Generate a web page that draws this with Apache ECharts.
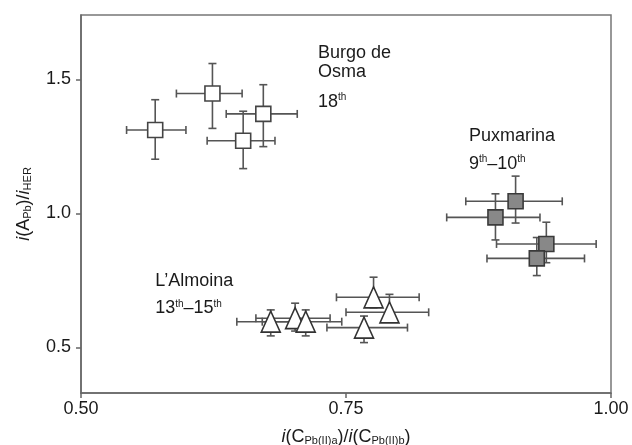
<!DOCTYPE html>
<html>
<head>
<meta charset="utf-8">
<script src="https://cdn.jsdelivr.net/npm/echarts@6/dist/echarts.min.js"></script>
<style>
  html, body { margin: 0; padding: 0; background: #fff; }
  #chart { width: 632px; height: 445px; }
</style>
</head>
<body>
<div id="chart"></div>
<script>
// Burgo de Osma (open squares)
var burgoX = [0.570, 0.624, 0.672, 0.653];
var burgoY = [1.311, 1.447, 1.371, 1.271];
var burgoXLo = [0.543, 0.590, 0.637, 0.619];
var burgoXHi = [0.599, 0.652, 0.704, 0.683];
var burgoYLo = [1.202, 1.317, 1.249, 1.167];
var burgoYHi = [1.424, 1.559, 1.480, 1.381];

// Puxmarina (grey squares)
var puxX = [0.891, 0.910, 0.939, 0.930];
var puxY = [0.985, 1.045, 0.886, 0.832];
var puxXLo = [0.845, 0.863, 0.892, 0.883];
var puxXHi = [0.933, 0.954, 0.986, 0.975];
var puxYLo = [0.901, 0.964, 0.816, 0.768];
var puxYHi = [1.073, 1.139, 0.967, 0.910];

// L'Almoina (open triangles)
var almX = [0.679, 0.702, 0.712, 0.776, 0.791, 0.767];
var almY = [0.596, 0.609, 0.596, 0.687, 0.631, 0.574];
var almXLo = [0.647, 0.665, 0.671, 0.741, 0.750, 0.732];
var almXHi = [0.707, 0.735, 0.746, 0.819, 0.828, 0.808];
var almYLo = [0.543, 0.561, 0.543, 0.648, 0.594, 0.518];
var almYHi = [0.640, 0.665, 0.640, 0.762, 0.698, 0.617];

// axis ticks
var xTicks = [0.50, 0.75, 1.00];
var yTicks = [0.5, 1.0, 1.5];

// annotations
var noteText = ['Burgo de\nOsma', '18{sup|th}', 'Puxmarina', '9{sup|th}–10{sup|th}', 'L’Almoina', '13{sup|th}–15{sup|th}'];
var noteX = [0.7236, 0.7236, 0.866, 0.866, 0.570, 0.570];
var noteY = [1.563, 1.415, 1.290, 1.184, 0.748, 0.645];

var FONT = "'Liberation Sans', Arial, sans-serif";
var INK = '#1a1a1a';

function zip(xs, ys) {
    var out = [];
    for (var i = 0; i < xs.length; i++) out.push([xs[i], ys[i]]);
    return out;
}

function errRows(xs, ys, xlo, xhi, ylo, yhi) {
    var out = [];
    for (var i = 0; i < xs.length; i++) out.push([xs[i], ys[i], xlo[i], xhi[i], ylo[i], yhi[i]]);
    return out;
}

var allErr = []
    .concat(errRows(burgoX, burgoY, burgoXLo, burgoXHi, burgoYLo, burgoYHi))
    .concat(errRows(puxX, puxY, puxXLo, puxXHi, puxYLo, puxYHi))
    .concat(errRows(almX, almY, almXLo, almXHi, almYLo, almYHi));

var barStyle = { stroke: '#555', lineWidth: 1.6 };
var CAP = 4;

var renderErr = function (params, api) {
    var c = api.coord([api.value(0), api.value(1)]);
    var l = api.coord([api.value(2), api.value(1)]);
    var r = api.coord([api.value(3), api.value(1)]);
    var b = api.coord([api.value(0), api.value(4)]);
    var t = api.coord([api.value(0), api.value(5)]);
    var line = function (x1, y1, x2, y2) {
        return { type: 'line', shape: { x1: x1, y1: y1, x2: x2, y2: y2 }, style: barStyle };
    };
    return {
        type: 'group',
        children: [
            line(l[0], c[1], r[0], c[1]),
            line(l[0], c[1] - CAP, l[0], c[1] + CAP),
            line(r[0], c[1] - CAP, r[0], c[1] + CAP),
            line(c[0], t[1], c[0], b[1]),
            line(c[0] - CAP, t[1], c[0] + CAP, t[1]),
            line(c[0] - CAP, b[1], c[0] + CAP, b[1])
        ]
    };
};

var notes = [];
for (var i = 0; i < noteText.length; i++) {
    notes.push({ value: [noteX[i], noteY[i]], label: { formatter: noteText[i] } });
}

var supRich = {
    sup: { fontSize: 10, fontFamily: FONT, color: INK, verticalAlign: 'top', lineHeight: 19, padding: [0, 0, 6, 0] }
};

var nameRich = {
    it: { fontStyle: 'italic', fontSize: 18, fontFamily: FONT, color: INK },
    sub: { fontSize: 11, fontFamily: FONT, color: INK, verticalAlign: 'bottom', padding: [6, 0, 0, 0] }
};

var myChart = echarts.init(document.getElementById('chart'));
var option = {
    animation: false,
    backgroundColor: '#fff',
    grid: {
        left: 81, right: 21, top: 15, bottom: 52,
        outerBoundsMode: 'none',
        containLabel: false,
        show: true, borderColor: '#777', borderWidth: 1.5, backgroundColor: 'transparent'
    },
    xAxis: {
        type: 'value',
        min: 0.5, max: 1.0, interval: 0.25,
        name: '{it|i}(C{sub|Pb(II)a})/{it|i}(C{sub|Pb(II)b})',
        nameLocation: 'middle',
        nameGap: 35,
        nameTextStyle: { fontFamily: FONT, fontSize: 18, color: INK, rich: nameRich },
        axisLine: { show: true, lineStyle: { color: '#666', width: 1.5 } },
        axisTick: { show: true, inside: false, length: 5, lineStyle: { color: '#666', width: 1.5 } },
        axisLabel: {
            fontFamily: FONT, fontSize: 18, color: INK, margin: 7,
            customValues: xTicks,
            formatter: function (v) { return v.toFixed(2); }
        },
        splitLine: { show: false }
    },
    yAxis: {
        type: 'value',
        min: 0.33, max: 1.74,
        name: '{it|i}(A{sub|Pb})/{it|i}{sub|HER}',
        nameLocation: 'middle',
        nameGap: 48,
        nameTextStyle: { fontFamily: FONT, fontSize: 18, color: INK, rich: nameRich },
        axisLine: { show: true, lineStyle: { color: '#666', width: 1.5 } },
        axisTick: { show: true, inside: false, length: 5, customValues: yTicks, lineStyle: { color: '#666', width: 1.5 } },
        axisLabel: {
            fontFamily: FONT, fontSize: 18, color: INK, margin: 10,
            customValues: yTicks,
            formatter: function (v) { return v.toFixed(1); }
        },
        splitLine: { show: false }
    },
    series: [
        {
            type: 'custom',
            name: 'errors',
            renderItem: renderErr,
            encode: { x: [0, 2, 3], y: [1, 4, 5] },
            data: allErr,
            z: 1,
            silent: true
        },
        {
            type: 'scatter',
            name: 'Burgo de Osma',
            symbol: 'rect',
            symbolSize: 15,
            itemStyle: { color: '#fff', borderColor: '#444', borderWidth: 1.6, opacity: 1 },
            data: zip(burgoX, burgoY),
            z: 3
        },
        {
            type: 'scatter',
            name: 'Puxmarina',
            symbol: 'rect',
            symbolSize: 15,
            itemStyle: { color: '#888', borderColor: '#3a3a3a', borderWidth: 1.6, opacity: 1 },
            data: zip(puxX, puxY),
            z: 3
        },
        {
            type: 'scatter',
            name: 'L’Almoina',
            symbol: 'triangle',
            symbolSize: [19, 21],
            itemStyle: { color: '#fff', borderColor: '#333', borderWidth: 1.6, opacity: 1 },
            data: zip(almX, almY),
            z: 3
        },
        {
            type: 'scatter',
            name: 'notes',
            symbolSize: 0.1,
            itemStyle: { color: '#fff', opacity: 0 },
            silent: true,
            label: {
                show: true,
                position: [0, 0],
                align: 'left',
                verticalAlign: 'middle',
                fontFamily: FONT,
                fontSize: 18,
                lineHeight: 19,
                color: INK,
                opacity: 1,
                rich: supRich
            },
            data: notes,
            z: 4
        }
    ]
};
myChart.setOption(option);
</script>
</body>
</html>
